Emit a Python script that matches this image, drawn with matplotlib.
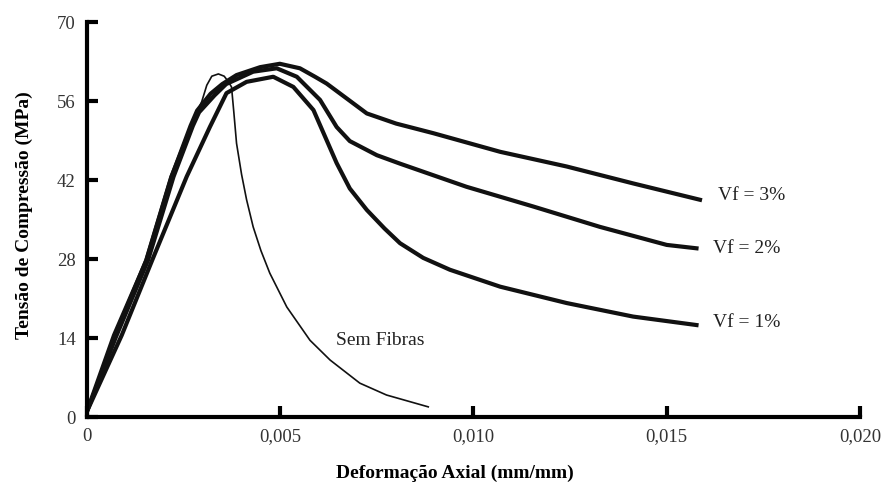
import matplotlib.pyplot as plt

# Deformacao axial (mm/mm) e tensao (MPa)
x_vf3 = [0, 0.0007, 0.00154, 0.00219, 0.00268, 0.00285, 0.0032, 0.0035, 0.00387, 0.00448,
         0.00499, 0.00551, 0.0059, 0.0062, 0.00675, 0.00724, 0.0080, 0.00896, 0.01069,
         0.01241, 0.01413, 0.01586]
y_vf3 = [1, 14.5, 27.8, 42.6, 51.6, 54.3, 57.3, 59.0, 60.6, 62.0,
         62.6, 61.8, 60.3, 59.1, 56.3, 53.8, 52.0, 50.3, 47.0,
         44.4, 41.4, 38.5]

x_vf2 = [0, 0.00075, 0.00158, 0.00224, 0.00274, 0.0029, 0.0033, 0.0036, 0.0043, 0.00491,
         0.00543, 0.00603, 0.00646, 0.0068, 0.0075, 0.0081, 0.00982, 0.01155, 0.01327,
         0.015, 0.01577]
y_vf2 = [1, 14.2, 27.8, 42.6, 51.6, 54.0, 57.0, 59.0, 61.2, 61.8,
         60.3, 56.2, 51.4, 48.9, 46.4, 44.9, 40.8, 37.3, 33.7,
         30.5, 29.9]

x_vf1 = [0, 0.0009, 0.0017, 0.00258, 0.00318, 0.00361, 0.00413, 0.00482, 0.00534, 0.00586,
         0.00646, 0.0068, 0.00724, 0.0077, 0.0081, 0.0087, 0.00939, 0.01069, 0.01241,
         0.01413, 0.01577]
y_vf1 = [1, 14.5, 28.0, 42.6, 51.4, 57.4, 59.4, 60.3, 58.5, 54.4,
         45.0, 40.5, 36.7, 33.4, 30.8, 28.2, 26.1, 23.1, 20.2,
         17.8, 16.3]

x_sem = [0, 0.0007, 0.0015, 0.00215, 0.0027, 0.00297, 0.0031, 0.00323, 0.0034, 0.00355,
         0.00365, 0.00374, 0.0038, 0.00387, 0.004, 0.00413, 0.0043, 0.0045, 0.00473,
         0.00517, 0.00577, 0.00629, 0.00706, 0.00775, 0.00883]
y_sem = [1, 14.5, 27.8, 42.6, 52.0, 55.9, 58.8, 60.4, 60.8, 60.4,
         59.5, 58.5, 54.0, 48.5, 43.0, 38.5, 33.7, 29.5, 25.5,
         19.5, 13.6, 10.1, 6.0, 3.9, 1.8]

x_ticks = [0, 0.005, 0.010, 0.015, 0.020]
x_tick_labels = ['0', '0,005', '0,010', '0,015', '0,020']
y_ticks = [0, 14, 28, 42, 56, 70]

plt.rcParams['font.family'] = ['Liberation Serif', 'DejaVu Serif']

fig = plt.figure(figsize=(8.91, 4.83), dpi=100)
ax = fig.add_axes([0.0976, 0.1366, 0.8676, 0.8178])

# curvas
ax.plot(x_vf3, y_vf3, color='#111111', lw=3, solid_joinstyle='round')
ax.plot(x_vf2, y_vf2, color='#111111', lw=3, solid_joinstyle='round')
ax.plot(x_vf1, y_vf1, color='#111111', lw=3, solid_joinstyle='round')
ax.plot(x_sem, y_sem, color='#111111', lw=1.2)

# rotulos das curvas
ax.text(0.01633, 39.3, 'Vf = 3%', fontsize=14, va='center', color='#222222')
ax.text(0.0162, 29.9, 'Vf = 2%', fontsize=14, va='center', color='#222222')
ax.text(0.0162, 16.7, 'Vf = 1%', fontsize=14, va='center', color='#222222')
ax.text(0.00645, 13.6, 'Sem Fibras', fontsize=14, va='center', color='#222222')

ax.set_xlim(0, 0.020)
ax.set_ylim(0, 70)
ax.set_xticks(x_ticks)
ax.set_xticklabels(x_tick_labels)
ax.set_yticks(y_ticks)

# eixos
for s in ['top', 'right']:
    ax.spines[s].set_visible(False)
for s in ['left', 'bottom']:
    ax.spines[s].set_linewidth(3)
ax.tick_params(direction='in', length=8, width=3, labelsize=13.5,
               labelcolor='#333333', pad=8)

fig.text(0.511, 0.021, 'Deformação Axial (mm/mm)', ha='center', va='center',
         fontsize=14, fontweight='bold')
fig.text(0.027, 0.555, 'Tensão de Compressão (MPa)', ha='center', va='center',
         rotation=90, fontsize=14, fontweight='bold')

fig.savefig('out.png', dpi=100)
